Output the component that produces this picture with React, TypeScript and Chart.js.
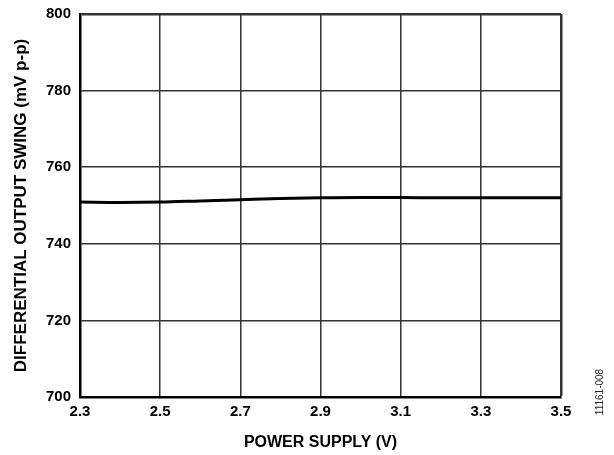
import React, { useEffect, useRef } from "react";
import { Chart, registerables } from "chart.js";

Chart.register(...registerables);

const supplyVoltage = [2.3, 2.4, 2.5, 2.6, 2.7, 2.8, 2.9, 3.0, 3.1, 3.2, 3.3, 3.4, 3.5];
const outputSwing = [750.9, 750.8, 750.9, 751.2, 751.5, 751.8, 752.0, 752.1, 752.1, 752.0, 752.0, 752.0, 752.0];
const xTickValues = [2.3, 2.5, 2.7, 2.9, 3.1, 3.3, 3.5];
const yTickValues = [700, 720, 740, 760, 780, 800];
const xTitle = "POWER SUPPLY (V)";
const yTitle = "DIFFERENTIAL OUTPUT SWING (mV p-p)";
const figureId = "11161-008";

const FONT = "'Liberation Sans', Arial, Helvetica, sans-serif";

export default function App() {
  const ref = useRef<HTMLCanvasElement | null>(null);

  useEffect(() => {
    document.body.style.margin = "0";
    const canvas = ref.current;
    if (!canvas) return;

    const sideText = {
      id: "sideText",
      afterDraw(chart: any) {
        const c = chart.ctx;
        c.save();
        c.translate(600, 392);
        c.rotate(-Math.PI / 2);
        c.font = `10px ${FONT}`;
        c.fillStyle = "#222";
        c.textAlign = "center";
        c.textBaseline = "middle";
        c.fillText(figureId, 0, 0);
        c.restore();
      },
    };

    const chart = new Chart(canvas, {
      type: "line",
      data: {
        datasets: [
          {
            data: supplyVoltage.map((v, i) => ({ x: v, y: outputSwing[i] })),
            borderColor: "#000",
            borderWidth: 3,
            pointRadius: 0,
            cubicInterpolationMode: "monotone",
            fill: false,
          },
        ],
      },
      options: {
        animation: false,
        responsive: false,
        devicePixelRatio: 1,
        layout: { padding: { left: 0, right: 53, top: 14, bottom: 0 } },
        plugins: { legend: { display: false }, tooltip: { enabled: false } },
        scales: {
          x: {
            type: "linear",
            min: 2.3,
            max: 3.5,
            afterBuildTicks: (s: any) => {
              s.ticks = xTickValues.map((v) => ({ value: v }));
            },
            afterFit: (s: any) => {
              s.height = 58;
            },
            ticks: {
              callback: (v: any) => Number(v).toFixed(1),
              color: "#000",
              font: { family: FONT, size: 15, weight: "bold" },
              padding: 6,
              maxRotation: 0,
            },
            grid: {
              color: "#333",
              lineWidth: (ctx: any) => (ctx.index === xTickValues.length - 1 ? 2.5 : 1.5),
              drawTicks: false,
            },
            border: { display: true, color: "#000", width: 2.5 },
            title: {
              display: true,
              text: xTitle,
              color: "#000",
              font: { family: FONT, size: 16, weight: "bold" },
              padding: { top: 0, bottom: 3 },
            },
          },
          y: {
            type: "linear",
            min: 700,
            max: 800,
            afterBuildTicks: (s: any) => {
              s.ticks = yTickValues.map((v) => ({ value: v }));
            },
            afterFit: (s: any) => {
              s.width = 80;
              s.paddingTop = 0;
            },
            ticks: {
              color: "#000",
              font: { family: FONT, size: 15, weight: "bold" },
              padding: 9,
            },
            grid: {
              color: "#333",
              lineWidth: (ctx: any) => (ctx.index === yTickValues.length - 1 ? 2.5 : 1.5),
              drawTicks: false,
            },
            border: { display: true, color: "#000", width: 2.5 },
            title: {
              display: true,
              text: yTitle,
              color: "#000",
              font: { family: FONT, size: 17, weight: "bold" },
              padding: { top: 11, bottom: 0 },
            },
          },
        },
      },
      plugins: [sideText],
    });

    return () => chart.destroy();
  }, []);

  return <canvas ref={ref} width={614} height={455} style={{ display: "block" }} />;
}
